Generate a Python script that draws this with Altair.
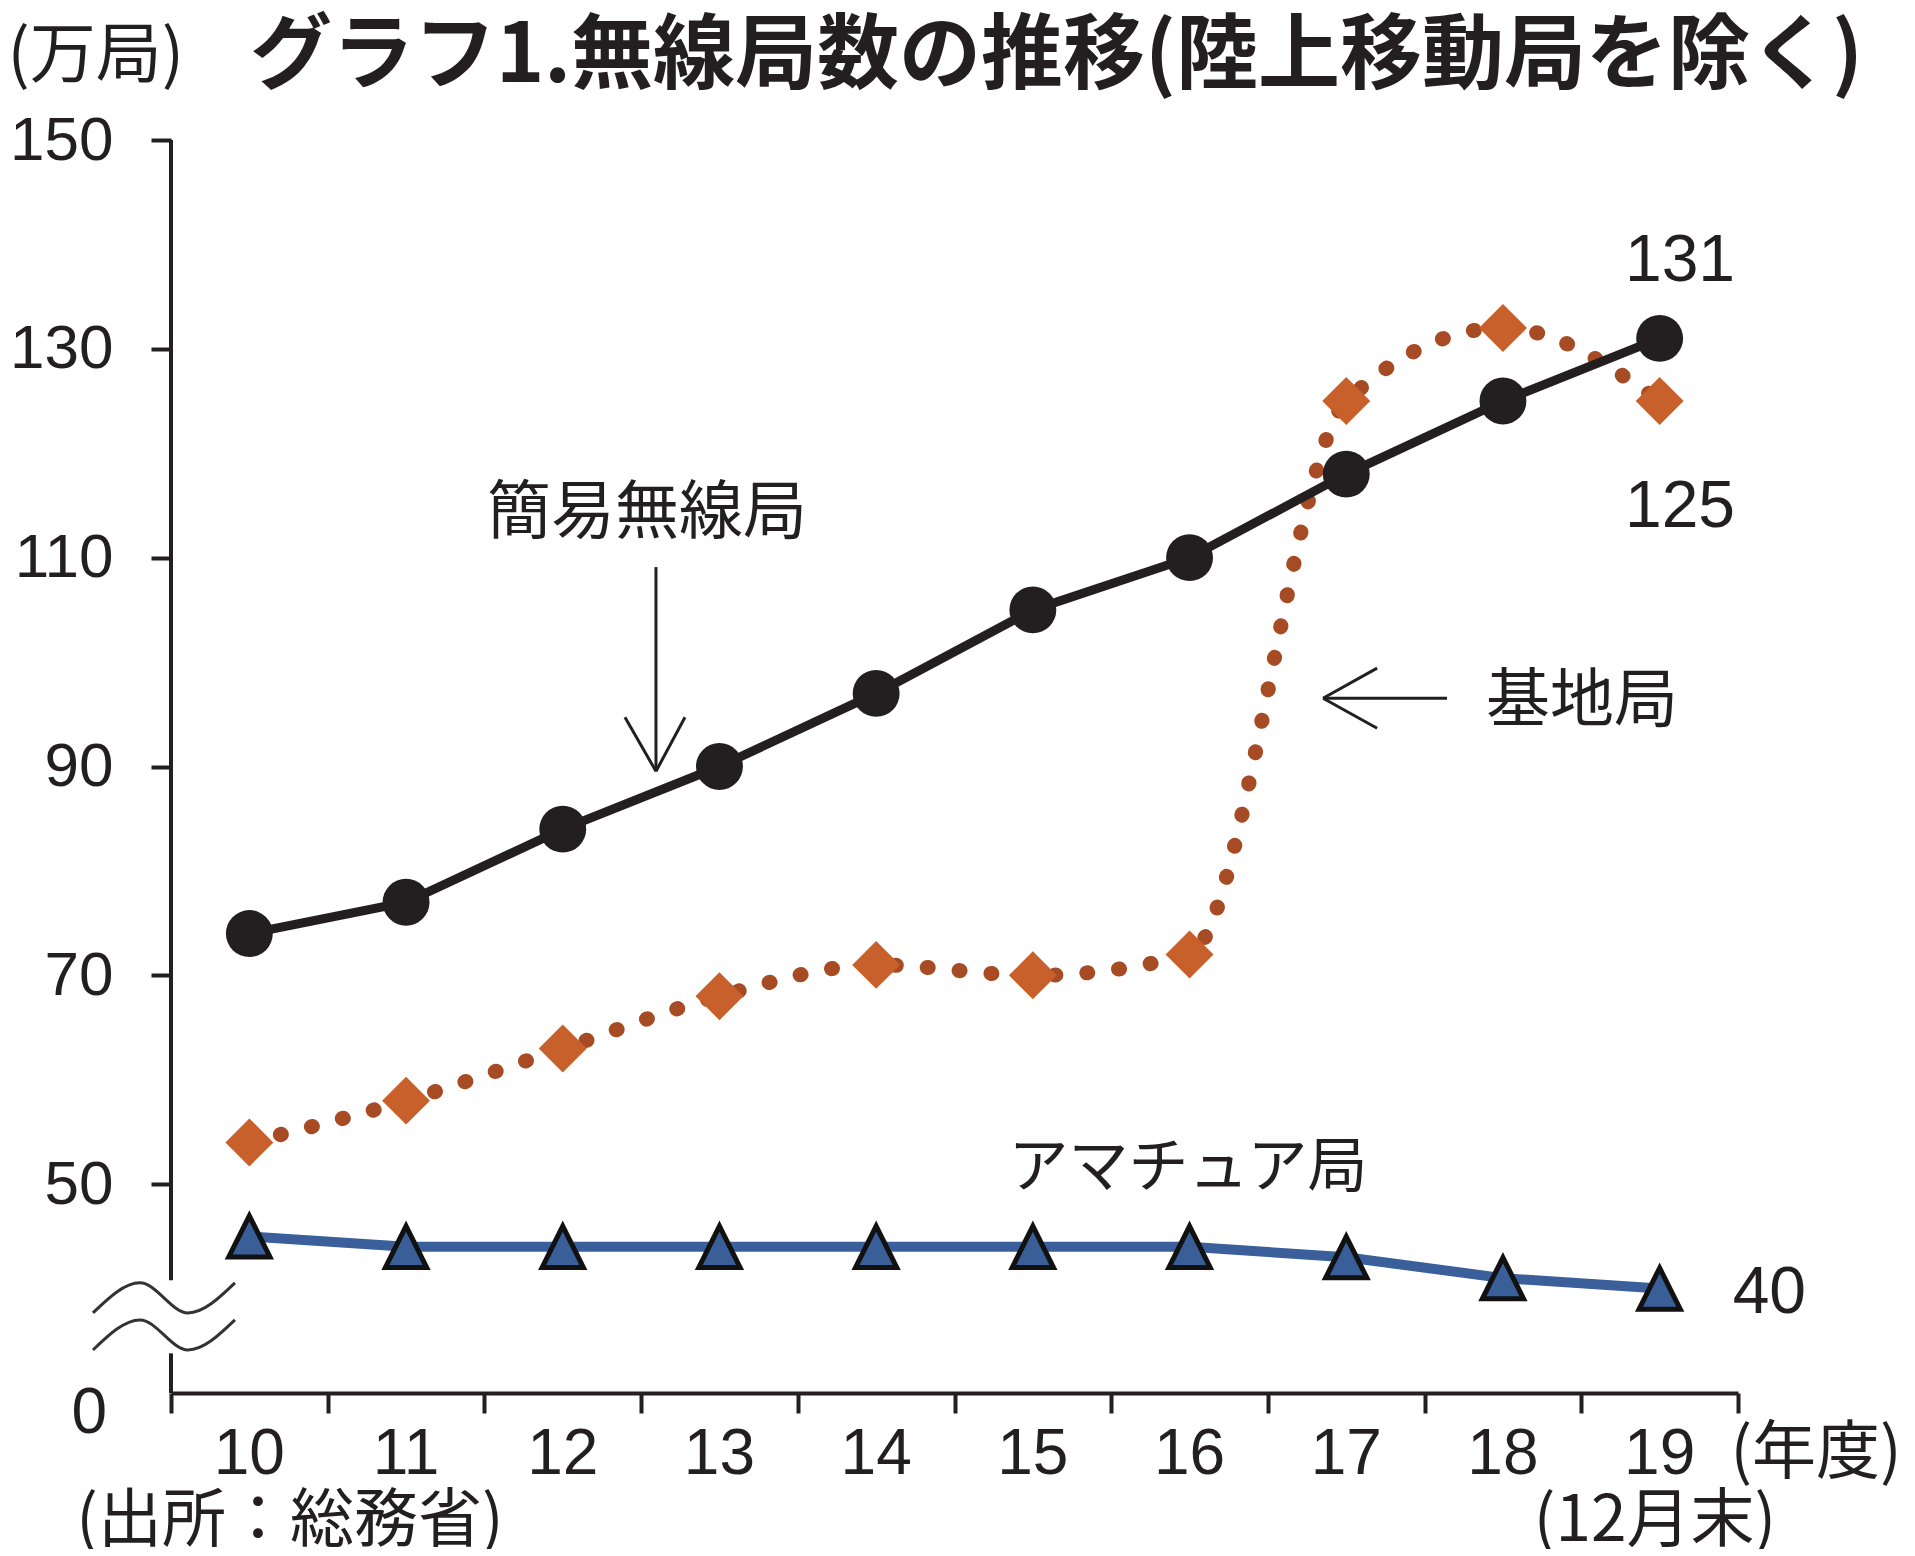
import altair as alt
import pandas as pd

# ---- chart values ----
years = [10, 11, 12, 13, 14, 15, 16, 17, 18, 19]
simple_radio = [74, 77, 84, 90, 97, 105, 110, 118, 125, 131]   # 簡易無線局
base_station = [54, 58, 63, 68, 71, 70, 72, 125, 132, 125]    # 基地局
amateur = [45, 44, 44, 44, 44, 44, 44, 43, 41, 40]            # アマチュア局
y_tick_values = [50, 70, 90, 110, 130, 150]
category_bounds = [9.5, 10.5, 11.5, 12.5, 13.5, 14.5, 15.5, 16.5, 17.5, 18.5, 19.5]
year_labels = ["10", "11", "12", "13", "14", "15", "16", "17", "18", "19"]

title_text = "グラフ1.無線局数の推移(陸上移動局を除く)"

INK = "#231f20"
CJK = "Noto Sans CJK JP"
NUM = "Liberation Sans"

df_simple = pd.DataFrame({"year": years, "value": simple_radio})
df_base = pd.DataFrame({"year": years, "value": base_station})
df_ama = pd.DataFrame({"year": years, "value": amateur})

x_scale = alt.Scale(domain=[9.5, 19.5], nice=False, zero=False)
y_scale = alt.Scale(domain=[30, 150], nice=False, zero=False)

x_axis = alt.Axis(
    values=category_bounds, labels=False, title=None, grid=False,
    domain=True, domainColor=INK, domainWidth=4,
    ticks=True, tickColor=INK, tickWidth=4, tickSize=20,
)
y_axis = alt.Axis(
    values=y_tick_values, title=None, grid=False, domain=False,
    ticks=True, tickColor=INK, tickWidth=4, tickSize=20,
    labelFont=NUM, labelFontSize=62, labelColor=INK, labelPadding=38,
    labelBaseline="middle", labelOverlap=False,
)


def XQ(field):
    return alt.X(field, type="quantitative", scale=x_scale, axis=x_axis)


def YQ(field):
    return alt.Y(field, type="quantitative", scale=y_scale, axis=y_axis)


# 基地局: dotted smoothed line + diamonds
base_line = alt.Chart(df_base).mark_line(
    color="#a64b24", strokeWidth=15, strokeDash=[1, 31], strokeCap="round",
    interpolate="monotone",
).encode(x=XQ("year"), y=YQ("value"))
base_pts = alt.Chart(df_base).mark_point(
    shape="diamond", filled=True, size=2300, color="#c8602b", opacity=1,
).encode(x=XQ("year"), y=YQ("value"))

# 簡易無線局: black line + circles
simple_line = alt.Chart(df_simple).mark_line(color=INK, strokeWidth=9).encode(
    x=XQ("year"), y=YQ("value"))
simple_pts = alt.Chart(df_simple).mark_point(
    shape="circle", filled=True, size=2200, color=INK, opacity=1,
).encode(x=XQ("year"), y=YQ("value"))

# アマチュア局: blue line + triangles
ama_line = alt.Chart(df_ama).mark_line(color="#3b5f9b", strokeWidth=10).encode(
    x=XQ("year"), y=YQ("value"))
ama_pts = alt.Chart(df_ama).mark_point(
    shape="M0,-1L1,1L-1,1Z", filled=True, size=1700, fill="#3a5e98",
    stroke="#111111", strokeWidth=5, strokeJoin="miter", opacity=1,
).encode(x=XQ("year"), y=YQ("value"))

# year labels under the x axis (through the x scale)
df_years = pd.DataFrame({"year": years, "label": year_labels, "value": [24.44] * len(years)})
year_layer = alt.Chart(df_years).mark_text(
    font=NUM, fontSize=64, color=INK, align="center", baseline="middle", dy=4,
).encode(x=XQ("year"), y=YQ("value"), text="label:N")

# y-axis line with break, and arrows (annotation geometry in data coordinates)
segs = pd.DataFrame({
    "year":  [9.5, 9.5, 12.595, 12.397, 12.780, 16.852, 16.852, 16.852],
    "value":  [150, 33.8, 109.1, 94.72, 94.72, 96.54, 96.54, 96.54],
    "x2": [9.5, 9.5, 12.595, 12.595, 12.595, 17.643, 17.197, 17.197],
    "y2": [40.8, 30, 89.54, 89.54, 89.54, 96.54, 99.42, 93.66],
    "w":  [4, 4, 3, 3, 3, 3, 3, 3],
})
seg_layer = alt.Chart(segs).mark_rule(color=INK).encode(
    x=XQ("year"), y=YQ("value"), x2="x2:Q", y2="y2:Q",
    strokeWidth=alt.StrokeWidth("w:Q", scale=None),
)

# axis-break wave symbol
waves = pd.DataFrame({
    "year": [9.002, 9.302, 9.608, 9.908, 9.002, 9.302, 9.608, 9.908],
    "value": [37.67, 40.55, 37.67, 40.55, 34.12, 37.0, 34.12, 37.0],
    "k": ["a", "a", "a", "a", "b", "b", "b", "b"],
})
wave_layer = alt.Chart(waves).mark_line(
    color="#333333", strokeWidth=3, interpolate="monotone"
).encode(x=XQ("year"), y=YQ("value"), detail="k:N", order="year:Q")

# title (bold text above the plot)
title_df = pd.DataFrame({"year": [10.004], "value": [158.3], "text": [title_text]})
title_layer = alt.Chart(title_df).mark_text(
    font=CJK, fontSize=82, fontWeight="bold", color=INK, align="left",
    baseline="middle", dy=4,
).encode(x=XQ("year"), y=YQ("value"), text="text:N")

# text annotations
cjk_txt = pd.DataFrame({
    "year": [12.538, 18.504, 15.99, 9.02, 19.998, 10.259, 18.97],
    "value": [114.56, 96.54, 51.86, 158.3, 24.53, 18.0, 18.0],
    "text": ["簡易無線局", "基地局", "アマチュア局", "(万局)", "(年度)", "(出所：総務省)", "(12月末)"],
    "fs": [64, 64, 60, 66, 64, 64, 64],
})
cjk_layer = alt.Chart(cjk_txt).mark_text(
    font=CJK, color=INK, align="center", baseline="middle", dy=4,
).encode(x=XQ("year"), y=YQ("value"), text="text:N",
         size=alt.Size("fs:Q", scale=None))

num_txt = pd.DataFrame({
    "year": [19.13, 19.13, 19.70],
    "value": [138.8, 115.2, 39.97],
    "text": ["131", "125", "40"],
})
num_layer = alt.Chart(num_txt).mark_text(
    font=NUM, fontSize=66, color=INK, align="center", baseline="middle", dy=4,
).encode(x=XQ("year"), y=YQ("value"), text="text:N")

zero_df = pd.DataFrame({"year": [9.092], "value": [28.37], "text": ["0"]})
zero_layer = alt.Chart(zero_df).mark_text(
    font=NUM, fontSize=64, color=INK, align="right", baseline="middle", dy=4,
).encode(x=XQ("year"), y=YQ("value"), text="text:N")

chart = alt.layer(
    base_line, base_pts, simple_line, simple_pts, ama_line, ama_pts,
    seg_layer, wave_layer, year_layer, title_layer, cjk_layer, num_layer, zero_layer,
).properties(
    width=1567,
    height=1253,
    padding={"left": 163, "top": 132, "right": 169, "bottom": 156},
    autosize=alt.AutoSizeParams(type="none"),
    background="white",
).configure_view(stroke=None)

chart.save("out.html", embed_options={"renderer": "svg", "actions": False})
